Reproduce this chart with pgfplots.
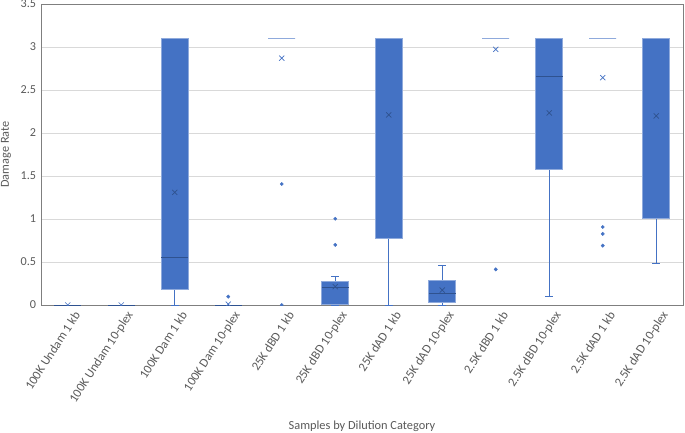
\documentclass[border=0pt]{standalone}
\usepackage{pgfplots}
\pgfplotsset{compat=1.18}
\usepgfplotslibrary{statistics}
\usepackage{fontspec}
\setmainfont{Carlito}
\definecolor{boxfill}{HTML}{4472C4}
\definecolor{boxedge}{HTML}{8FAADC}
\definecolor{meddark}{HTML}{2F528F}
\definecolor{txt}{HTML}{595959}
\definecolor{gridc}{HTML}{D9D9D9}
\definecolor{framec}{HTML}{7F7F7F}
\pgfplotsset{
  mybox/.style={
    boxplot/draw direction=y,
    boxplot/box extend=0.5,
    boxplot/whisker extend=0.15,
    boxplot/every box/.style={draw=boxedge, fill=boxfill, line width=0.8pt},
    boxplot/every median/.style={draw=meddark, line width=0.8pt},
    boxplot/every whisker/.style={draw=boxfill, line width=0.8pt},
    mark=*, mark size=1.7bp, color=boxfill, solid,
  },
  lightmed/.style={boxplot/every median/.style={draw=boxedge, line width=0.8pt}},
}
\begin{document}
\begin{tikzpicture}
\begin{axis}[
  scale only axis, width=642bp, height=301bp,
  xmin=0.5, xmax=12.5, ymin=0, ymax=3.5,
  ytick={0,0.5,1,1.5,2,2.5,3,3.5},
  yticklabels={0,0.5,1,1.5,2,2.5,3,3.5},
  xtick={1,2,3,4,5,6,7,8,9,10,11,12},
  xticklabels={100K Undam 1 kb,100K Undam 10-plex,100K Dam 1 kb,100K Dam 10-plex,25K dBD 1 kb,25K dBD 10-plex,25K dAD 1 kb,25K dAD 10-plex,2.5K dBD 1 kb,2.5K dBD 10-plex,2.5K dAD 1 kb,2.5K dAD 10-plex},
  x tick label style={rotate=57, anchor=east, font=\fontsize{12.6}{14}\selectfont, text=txt, yshift=-12bp, xshift=2bp},
  y tick label style={font=\fontsize{12.2}{14}\selectfont, text=txt, xshift=-1.5bp},
  /pgf/number format/assume math mode=true,
  tick style={draw=none},
  ymajorgrids, grid style={draw=gridc, line width=0.8pt},
  axis line style={draw=framec, line width=0.8pt},
  clip marker paths=true,
  ylabel={Damage Rate},
  ylabel style={at={(axis description cs:0,0.5)}, anchor=center, yshift=35bp, font=\fontsize{12.3}{15}\selectfont, text=txt},
  xlabel={Samples by Dilution Category},
  xlabel style={at={(axis description cs:0.5,0)}, anchor=center, yshift=-121bp, font=\fontsize{12.4}{15}\selectfont, text=txt},
]
\addplot[mybox, boxplot prepared={draw position=1, lower whisker=0, lower quartile=0, median=0, upper quartile=0, upper whisker=0}] coordinates {};
\addplot[mybox, boxplot prepared={draw position=2, lower whisker=0, lower quartile=0, median=0, upper quartile=0, upper whisker=0}] coordinates {};
\addplot[mybox, boxplot prepared={draw position=3, lower whisker=0, lower quartile=0.186, median=0.554, upper quartile=3.105, upper whisker=3.105}] coordinates {};
\addplot[mybox, boxplot prepared={draw position=4, lower whisker=0, lower quartile=0, median=0, upper quartile=0, upper whisker=0}] coordinates {(0,0.097)};
\addplot[mybox, lightmed, boxplot prepared={draw position=5, lower whisker=3.105, lower quartile=3.105, median=3.105, upper quartile=3.105, upper whisker=3.105}] coordinates {(0,1.407) (0,0)};
\addplot[mybox, boxplot prepared={draw position=6, lower whisker=0, lower quartile=0.005, median=0.206, upper quartile=0.271, upper whisker=0.333}] coordinates {(0,1.003) (0,0.70)};
\addplot[mybox, lightmed, boxplot prepared={draw position=7, lower whisker=0, lower quartile=0.779, median=3.105, upper quartile=3.105, upper whisker=3.105}] coordinates {};
\addplot[mybox, boxplot prepared={draw position=8, lower whisker=0, lower quartile=0.027, median=0.14, upper quartile=0.287, upper whisker=0.465}] coordinates {};
\addplot[mybox, lightmed, boxplot prepared={draw position=9, lower whisker=3.105, lower quartile=3.105, median=3.105, upper quartile=3.105, upper whisker=3.105}] coordinates {(0,0.415)};
\addplot[mybox, boxplot prepared={draw position=10, lower whisker=0.097, lower quartile=1.578, median=2.659, upper quartile=3.105, upper whisker=3.105}] coordinates {};
\addplot[mybox, lightmed, boxplot prepared={draw position=11, lower whisker=3.105, lower quartile=3.105, median=3.105, upper quartile=3.105, upper whisker=3.105}] coordinates {(0,0.907) (0,0.826) (0,0.69)};
\addplot[mybox, lightmed, boxplot prepared={draw position=12, lower whisker=0.488, lower quartile=1.008, median=3.105, upper quartile=3.105, upper whisker=3.105}] coordinates {};
% means
\addplot[only marks, mark=x, mark size=3.6bp, color=meddark, line width=0.7pt] coordinates {(3,1.31) (6,0.213) (7,2.21) (8,0.174) (10,2.233) (12,2.198)};
\addplot[only marks, mark=x, mark size=3.6bp, color=boxfill, line width=0.7pt] coordinates {(1,0) (2,0) (4,0.01) (5,2.87) (9,2.973) (11,2.643)};
\end{axis}
\path (current axis.south west) ++(-41bp,-128bp) coordinate (bbsw);
\path (current axis.north east) ++(2bp,4bp) coordinate (bbne);
\pgfresetboundingbox
\path[use as bounding box] (bbsw) rectangle (bbne);
\end{tikzpicture}
\end{document}
